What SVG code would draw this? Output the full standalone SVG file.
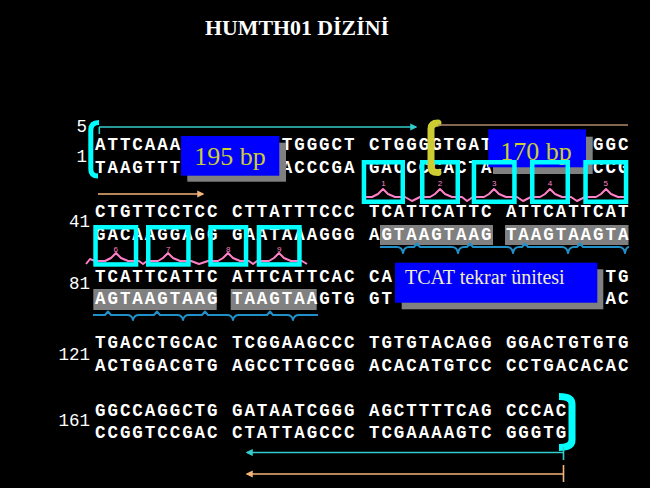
<svg xmlns="http://www.w3.org/2000/svg" width="650" height="488" viewBox="0 0 650 488">
<style>
.seq{font-family:"Liberation Mono","DejaVu Sans Mono",monospace;font-size:17.5px;font-weight:bold;letter-spacing:1.95px;fill:#ffffff}
.num{font-family:"Liberation Mono","DejaVu Sans Mono",monospace;font-size:17.5px;fill:#ffffff;text-anchor:end}
.hl{fill:#808080}
.sq{fill:none;stroke:#00ffff;stroke-width:4.5}
.pk{fill:none;stroke:#ff80c8;stroke-width:2;stroke-linejoin:round}
.pn{font-family:"Liberation Sans",Arial,sans-serif;font-size:8px;fill:#ff80c8;text-anchor:middle}
.bl{fill:none;stroke:#2090c8;stroke-width:2;stroke-linejoin:round}
.box{fill:#0000ff}
.sh{fill:#808080}
.bp{font-family:"Liberation Serif","Times New Roman",serif;font-size:26px;fill:#cccc33;text-anchor:middle}
.cy{stroke:#33cccc;stroke-width:1.6;fill:none}
.or{stroke:#f4b57a;stroke-width:1.6;fill:none}
</style>
<defs>
<marker id="aCy" viewBox="0 0 10 10" refX="8" refY="5" markerWidth="4.5" markerHeight="4.5" orient="auto-start-reverse" markerUnits="strokeWidth"><path d="M0,0 L10,5 L0,10 z" fill="#33cccc"/></marker>
<marker id="aOr" viewBox="0 0 10 10" refX="8" refY="5" markerWidth="4.5" markerHeight="4.5" orient="auto-start-reverse" markerUnits="strokeWidth"><path d="M0,0 L10,5 L0,10 z" fill="#f4b57a"/></marker>
</defs>
<rect width="650" height="488" fill="#000000"/>
<g id="title">
<text x="297" y="35" text-anchor="middle" font-family="Liberation Serif,'Times New Roman',serif" font-weight="bold" font-size="20" fill="#ffffff" textLength="184" lengthAdjust="spacingAndGlyphs">HUMTH01 DİZİNİ</text>
</g>
<g id="highlights">
<rect class="hl" x="380" y="225" width="113" height="20"/>
<rect class="hl" x="505" y="225" width="123.5" height="20"/>
<rect class="hl" x="93.3" y="289" width="123.4" height="21"/>
<rect class="hl" x="230.7" y="289" width="86" height="21"/>
</g>
<g id="row-labels">
<text class="num" x="87" y="132">5</text>
<text class="num" x="87" y="162">1</text>
<text class="num" x="90" y="227">41</text>
<text class="num" x="90" y="289">81</text>
<text class="num" x="90" y="360">121</text>
<text class="num" x="90" y="426">161</text>
</g>
<g id="sequence">
<text class="seq" x="95" y="150">ATTCAAA</text>
<text class="seq" x="281.75" y="150">TGGGCT</text>
<text class="seq" x="368.9" y="150">CTGGGGTGAT</text>
<text class="seq" x="593" y="150">GGC</text>
<text class="seq" x="95" y="173">TAAGTTT</text>
<text class="seq" x="281.75" y="173">ACCCGA</text>
<text class="seq" x="368.9" y="173">GACCCCACTA</text>
<text class="seq" x="593" y="173">CCG</text>
<text class="seq" x="95" y="217">CTGTTCCTCC CTTATTTCCC TCATTCATTC ATTCATTCAT</text>
<text class="seq" x="95" y="240">GACAAGGAGG GAATAAAGGG AGTAAGTAAG TAAGTAAGTA</text>
<text class="seq" x="95" y="282">TCATTCATTC ATTCATTCAC CA</text>
<text class="seq" x="605.45" y="282">TG</text>
<text class="seq" x="95" y="304">AGTAAGTAAG TAAGTAAGTG GT</text>
<text class="seq" x="605.45" y="304">AC</text>
<text class="seq" x="95" y="348">TGACCTGCAC TCGGAAGCCC TGTGTACAGG GGACTGTGTG</text>
<text class="seq" x="95" y="371">ACTGGACGTG AGCCTTCGGG ACACATGTCC CCTGACACAC</text>
<text class="seq" x="95" y="416">GGCCAGGCTG GATAATCGGG AGCTTTTCAG CCCAC</text>
<text class="seq" x="95" y="438">CCGGTCCGAC CTATTAGCCC TCGAAAAGTC GGGTG</text>
</g>
<g id="chromatograms">
<path class="pk" d="M362 197 L372 197 L378 194 L383 189 L388 194 L395 197 L405 197 L412 201 L420 197 L430 197 L435 194 L440 189 L445 194 L452 197 L462 197 L467 201 L473 197 L484 197 L489 194 L494 189 L499 194 L506 197 L517 197 L523 201 L531 197 L540 197 L545 194 L550 189 L555 194 L562 197 L571 197 L577 201 L585 197 L596 197 L601 194 L606 189 L611 194 L618 197 L628 197"/>
<path class="pk" d="M86 264 L90 259 L95 261 L105 261 L111 258 L116 253 L121 258 L128 261 L139 261 L143 264 L147 261 L158 261 L163 258 L168 253 L173 258 L180 261 L191 261 L199 264 L208 261 L218 261 L223 258 L228 253 L233 258 L240 261 L249 261 L253 264 L257 261 L269 261 L274 258 L279 253 L284 258 L291 261 L302 261 L307 264"/>
<path class="bl" d="M380 247 L397 247 Q402 247 403 253 Q404 247 409 247 L414 247 L417 243.5 L420 247 L452 247 Q457 247 458 253 Q459 247 464 247 L467 247 L470 243.5 L473 247 L507 247 Q512 247 513 253 Q514 247 519 247 L522 247 L525 243.5 L528 247 L562 247 Q567 247 568 253 Q569 247 574 247 L577 247 L580 243.5 L583 247 L619 247 Q624 247 625 253 Q626 247 629 247"/>
<path class="bl" d="M93 315 L105 315 L108 311.5 L111 315 L127 315 Q132 315 133 320 Q134 315 139 315 L154 315 L157 311.5 L160 315 L177 315 Q182 315 183 320 Q184 315 189 315 L202 315 L205 311.5 L208 315 L227 315 Q232 315 233 320 Q234 315 239 315 L267 315 L270 311.5 L273 315 L287 315 Q292 315 293 320 Q294 315 299 315 L318 315"/>
</g>
<g id="label-195bp">
<rect class="sh" x="187.3" y="142.7" width="98.7" height="39"/>
<rect class="box" x="181" y="136" width="98.3" height="39.7"/>
<text class="bp" x="230" y="165">195 bp</text>
</g>
<g id="label-170bp">
<rect class="sh" x="493" y="136.7" width="99.7" height="37.3"/>
<rect class="box" x="488.3" y="129.3" width="97.7" height="38"/>
<text class="bp" x="536" y="160">170 bp</text>
</g>
<g id="label-tcat">
<rect class="sh" x="401.7" y="269.3" width="201.6" height="40"/>
<rect class="box" x="395" y="262.7" width="202.3" height="40"/>
<text x="405" y="284" font-family="Liberation Serif,'Times New Roman',serif" font-size="20" fill="#f2edc8">TCAT tekrar ünitesi</text>
</g>
<g id="repeat-boxes">
<rect class="sq" x="363.95" y="162.25" width="38.8" height="39.5"/>
<rect class="sq" x="422.25" y="162.25" width="35.5" height="39.5"/>
<rect class="sq" x="473.95" y="162.25" width="40.5" height="39.5"/>
<rect class="sq" x="532.25" y="162.25" width="35.5" height="39.5"/>
<rect class="sq" x="585.55" y="162.25" width="40.5" height="39.5"/>
<rect class="sq" x="95.55" y="227.25" width="40.5" height="37.2"/>
<rect class="sq" x="148.25" y="227.25" width="40.2" height="37.2"/>
<rect class="sq" x="210.55" y="227.25" width="35.5" height="37.2"/>
<rect class="sq" x="258.95" y="227.25" width="40.5" height="37.2"/>
<text class="pn" x="383.4" y="186">1</text>
<text class="pn" x="440" y="186">2</text>
<text class="pn" x="494.2" y="186">3</text>
<text class="pn" x="550" y="186">4</text>
<text class="pn" x="605.8" y="186">5</text>
<text class="pn" x="115.8" y="252">6</text>
<text class="pn" x="168.3" y="252">7</text>
<text class="pn" x="228.3" y="252">8</text>
<text class="pn" x="279.2" y="252">9</text>
</g>
<g id="brackets">
<path d="M99 122.5 Q90.8 122.5 90.8 130 L90.8 169 Q90.8 176 98 176" fill="none" stroke="#00ffff" stroke-width="5"/>
<path d="M438 123 Q431 123 431 129 L431 167 Q431 172.5 438 172.5" fill="none" stroke="#cccc33" stroke-width="7" stroke-linecap="round"/>
<path d="M559 396.5 Q572 396.5 572 404 L572 440 Q572 447.5 559 447.5" fill="none" stroke="#00ffff" stroke-width="7"/>
</g>
<g id="connectors">
<line class="cy" x1="99" y1="127" x2="416" y2="127" marker-end="url(#aCy)"/>
<line class="cy" x1="99.3" y1="127" x2="99.3" y2="134"/>
<line x1="438" y1="125" x2="628" y2="125" stroke="#b08a6a" stroke-width="1.6"/>
<line class="or" x1="98" y1="194" x2="203" y2="194" marker-end="url(#aOr)"/>
<line class="cy" x1="563.5" y1="452.5" x2="247" y2="452.5" marker-end="url(#aCy)"/>
<line class="cy" x1="563.5" y1="447" x2="563.5" y2="460"/>
<line class="or" x1="563.5" y1="474" x2="247" y2="474" marker-end="url(#aOr)"/>
<line class="or" x1="563.5" y1="465" x2="563.5" y2="482"/>
</g>
</svg>
